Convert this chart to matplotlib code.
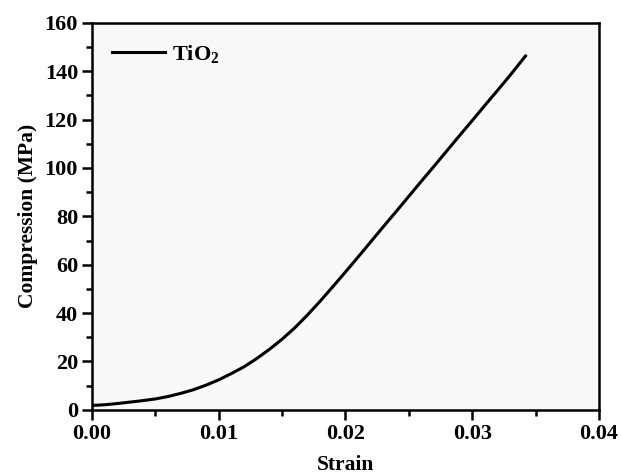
import matplotlib
matplotlib.use("Agg")
import matplotlib.pyplot as plt
from matplotlib.ticker import MultipleLocator, FuncFormatter

strain = [0.000, 0.001, 0.002, 0.003, 0.004, 0.005, 0.006, 0.007, 0.008, 0.009,
          0.010, 0.011, 0.012, 0.013, 0.014, 0.015, 0.016, 0.017, 0.018, 0.019,
          0.020, 0.021, 0.022, 0.023, 0.024, 0.025, 0.026, 0.027, 0.028, 0.029,
          0.030, 0.031, 0.032, 0.033, 0.0342]
compression = [1.8, 2.1, 2.6, 3.2, 3.8, 4.5, 5.5, 6.8, 8.3, 10.2,
               12.4, 15.0, 17.8, 21.2, 25.0, 29.2, 33.9, 39.2, 44.9, 50.9,
               57.0, 63.2, 69.5, 75.8, 82.0, 88.3, 94.6, 100.8, 107.1, 113.4,
               119.6, 125.9, 132.1, 138.4, 146.3]

plt.rcParams['font.family'] = ['Liberation Serif', 'DejaVu Serif']
plt.rcParams['font.weight'] = 'bold'
plt.rcParams['mathtext.fontset'] = 'custom'
plt.rcParams['mathtext.rm'] = 'Liberation Serif:bold'
plt.rcParams['mathtext.default'] = 'rm'

fig = plt.figure(figsize=(6.21, 4.76), dpi=100)
ax = fig.add_axes([0.148, 0.139, 0.8166, 0.8130])
ax.set_facecolor('#f8f8f8')

ax.plot(strain, compression, color='black', lw=2.2, label='TiO$_2$')

ax.set_xlim(0, 0.04)
ax.set_ylim(0, 160)
ax.xaxis.set_major_locator(MultipleLocator(0.01))
ax.xaxis.set_minor_locator(MultipleLocator(0.005))
ax.yaxis.set_major_locator(MultipleLocator(20))
ax.yaxis.set_minor_locator(MultipleLocator(10))
ax.xaxis.set_major_formatter(FuncFormatter(lambda v, p: "%.2f" % v))

for s in ax.spines.values():
    s.set_linewidth(1.8)
ax.tick_params(which='major', direction='out', length=7, width=1.8, labelsize=16, pad=3)
ax.tick_params(which='minor', direction='out', length=4, width=1.8)
ax.tick_params(top=False, right=False, which='both')

ax.set_xlabel('Strain', fontsize=15.5, fontweight='bold', labelpad=8)
ax.set_ylabel('Compression (MPa)', fontsize=15.5, fontweight='bold', labelpad=5)

ax.legend(loc='upper left', frameon=False, fontsize=16, handlelength=2.4,
          handletextpad=0.3, borderaxespad=0.5)

fig.savefig('out.png', dpi=100)
